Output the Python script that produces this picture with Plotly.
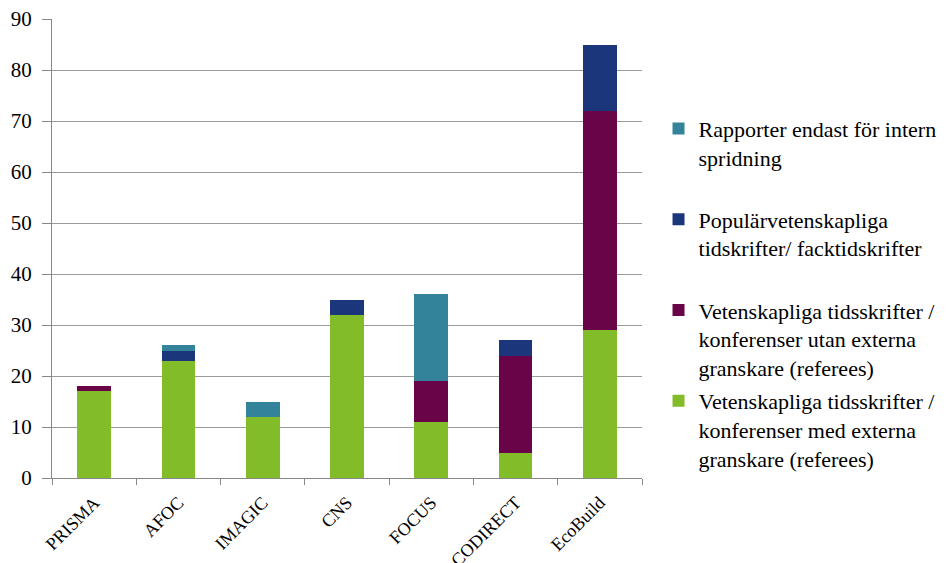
import plotly.graph_objects as go

projects = ["PRISMA", "AFOC", "IMAGIC", "CNS", "FOCUS", "CODIRECT", "EcoBuild"]

series_names = [
    "Vetenskapliga tidsskrifter /<br>konferenser med externa<br>granskare (referees)",
    "Vetenskapliga tidsskrifter /<br>konferenser utan externa<br>granskare (referees)",
    "Populärvetenskapliga<br>tidskrifter/ facktidskrifter<br> ",
    "Rapporter endast för intern<br>spridning<br> ",
]
med_referees = [17, 23, 12, 32, 11, 5, 29]
utan_referees = [1, 0, 0, 0, 8, 19, 43]
popular = [0, 2, 0, 3, 0, 3, 13]
rapporter = [0, 1, 3, 0, 17, 0, 0]

series_values = [med_referees, utan_referees, popular, rapporter]
series_colors = ["#83BC29", "#690449", "#1B367B", "#33849A"]
legend_ranks = [4, 3, 2, 1]

FONT = "Liberation Serif"

fig = go.Figure()
for i, (name, vals, col) in enumerate(zip(series_names, series_values, series_colors)):
    fig.add_trace(go.Bar(
        x=projects, y=vals, name=name, marker_color=col,
        marker_line_width=0, legendgroup=f"g{i}", legendrank=legend_ranks[i],
    ))

fig.update_layout(
    barmode="stack",
    bargap=0.6,
    width=947, height=563,
    margin=dict(l=52, r=305, t=19, b=85, autoexpand=False),
    paper_bgcolor="white",
    plot_bgcolor="white",
    font=dict(family=FONT, size=22, color="#000000"),
    legend=dict(
        x=1.028, xanchor="left", y=0.807, yanchor="top",
        traceorder="grouped", tracegroupgap=2, valign="top",
        font=dict(family=FONT, size=22, color="#000000"),
        bgcolor="rgba(0,0,0,0)",
    ),
    showlegend=True,
)

fig.update_xaxes(
    type="category", tickangle=-45, tickson="boundaries",
    ticks="outside", ticklen=6, tickcolor="#878787",
    showline=True, linecolor="#878787", linewidth=1,
    tickfont=dict(family=FONT, size=18, color="#000000"),
    ticklabelstandoff=6, automargin=False,
    showgrid=False,
)
fig.update_yaxes(
    range=[0, 90], dtick=10, tick0=0,
    ticks="outside", ticklen=9, tickcolor="#878787",
    showline=True, linecolor="#878787", linewidth=1,
    showgrid=True, gridcolor="#9B9B9B", gridwidth=1,
    tickfont=dict(family=FONT, size=21, color="#000000"),
    ticklabelstandoff=6, automargin=False,
    zeroline=False,
)

fig.write_html("out.html")
